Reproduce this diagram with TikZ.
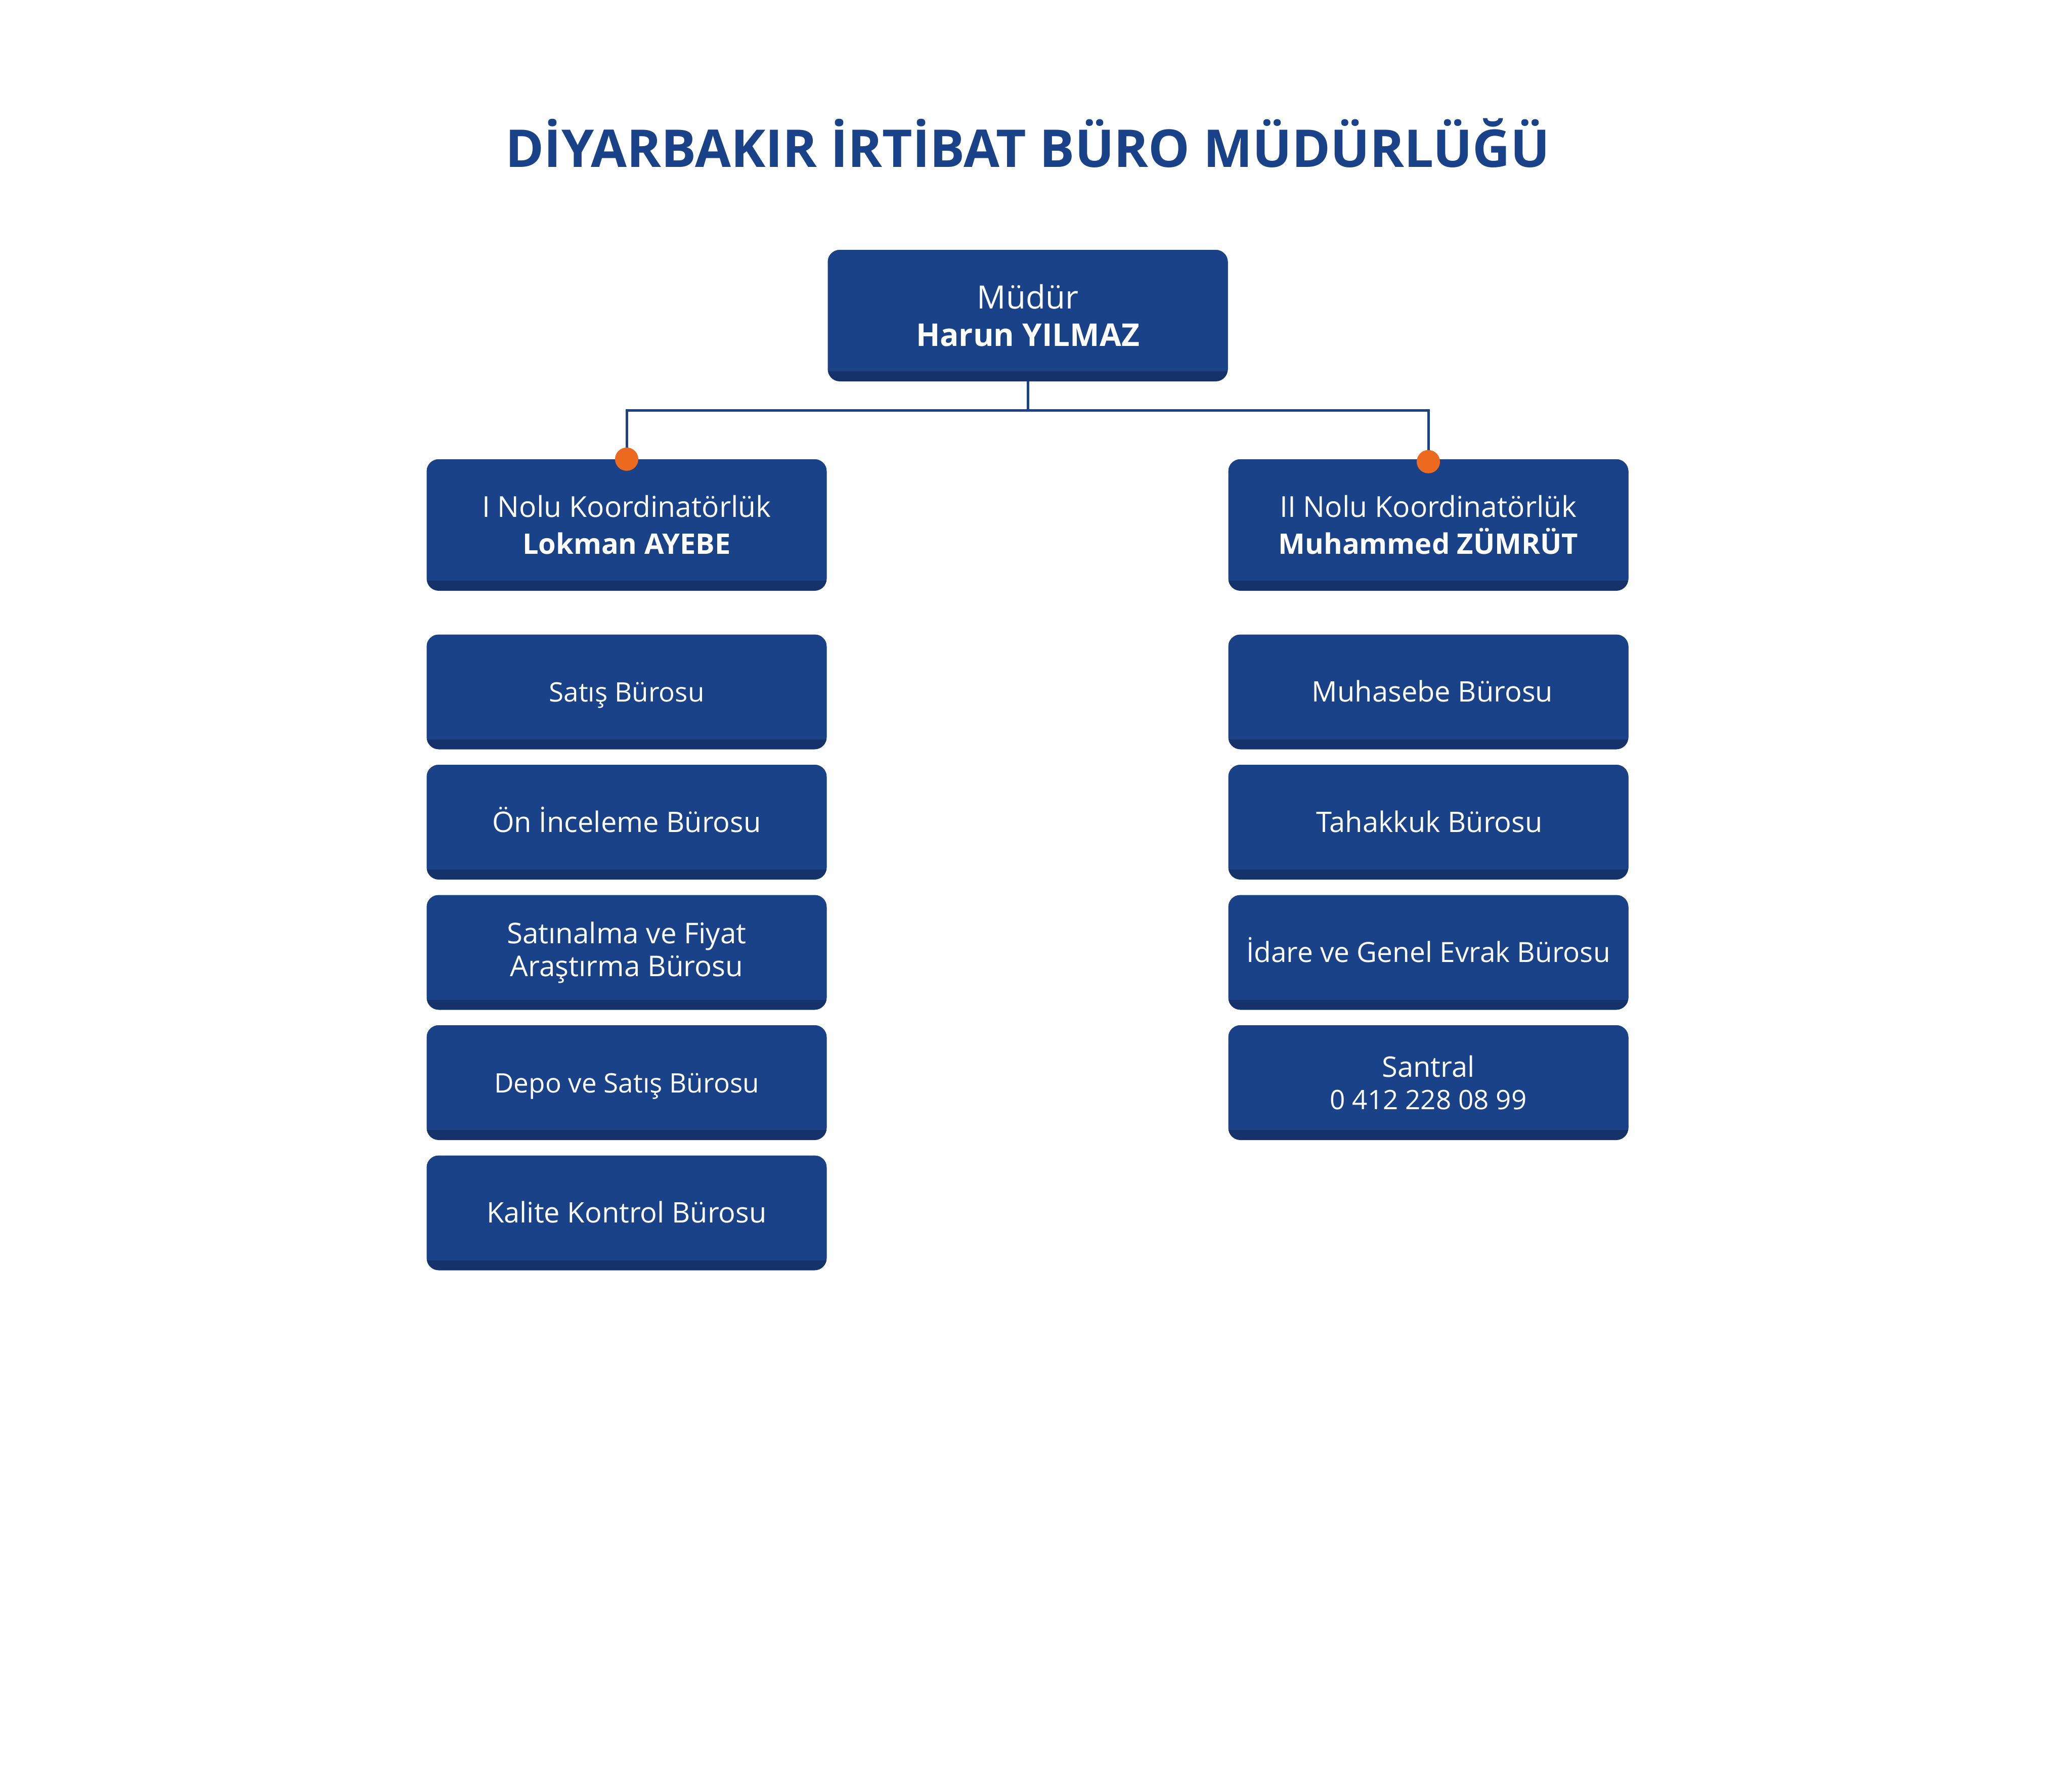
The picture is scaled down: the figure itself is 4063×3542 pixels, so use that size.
\documentclass[tikz,border=0pt]{standalone}
\usepackage{fontspec}
\setmainfont{Open Sans}
\definecolor{boxblue}{HTML}{1A4288}
\definecolor{stripblue}{HTML}{15336A}
\definecolor{dotorange}{HTML}{EC6A1F}
\tikzset{
  unit/.style={rectangle, rounded corners=24pt, minimum width=791pt, inner sep=0pt,
    fill=stripblue, text=white, align=center,
    path picture={\fill[boxblue, sharp corners] (path picture bounding box.north west) rectangle ([yshift=20pt]path picture bounding box.south east);}},
  bureau/.style={unit, minimum height=227pt, font=\fontsize{56}{64}\selectfont},
  oneline/.style={text height=39pt, text depth=0pt},
  coordbox/.style={unit, minimum height=260pt, font=\fontsize{57}{73}\selectfont},
  headbox/.style={unit, minimum height=260pt, font=\fontsize{63.5}{74}\selectfont},
  link/.style={draw=boxblue, line width=5pt},
  orangedot/.style={circle, fill=dotorange, minimum size=46pt, inner sep=0pt},
  titletext/.style={text=boxblue, font=\bfseries\fontsize{103}{120}\selectfont, anchor=base, inner sep=0pt}
}
\begin{document}
\begin{tikzpicture}[x=1pt,y=-1pt]
\fill[white] (0,0) rectangle (4063,3542);
\useasboundingbox (0,0) rectangle (4063,3542);

\node[titletext] (title) at (2032,330) {DİYARBAKIR İRTİBAT BÜRO MÜDÜRLÜĞÜ};

\node[headbox] (head) at (2032,624) {Müdür\\\textbf{\fontsize{62}{74}\selectfont Harun YILMAZ}};

\node[coordbox] (c1) at (1239,1038) {I Nolu Koordinatörlük\\\textbf{\fontsize{56}{73}\selectfont Lokman AYEBE}};
\node[coordbox] (c2) at (2824,1038) {II Nolu Koordinatörlük\\\textbf{\fontsize{56}{73}\selectfont Muhammed ZÜMRÜT}};

\node[bureau, oneline, font=\fontsize{53}{64}\selectfont] (l1) at (1239,1368) {Satış Bürosu};
\node[bureau, oneline] (l2) at (1239,1625.5) {Ön İnceleme Bürosu};
\node[bureau, font=\fontsize{56.5}{65}\selectfont] (l3) at (1239,1883) {Satınalma ve Fiyat\\Araştırma Bürosu};
\node[bureau, oneline, font=\fontsize{53}{64}\selectfont] (l4) at (1239,2140.5) {Depo ve Satış Bürosu};
\node[bureau, oneline] (l5) at (1239,2398) {Kalite Kontrol Bürosu};

\node[bureau, oneline] (r1) at (2824,1368) {\hspace*{16pt}Muhasebe Bürosu};
\node[bureau, oneline] (r2) at (2824,1625.5) {\hspace*{4pt}Tahakkuk Bürosu};
\node[bureau, oneline, font=\fontsize{55}{64}\selectfont] (r3) at (2824,1883) {İdare ve Genel Evrak Bürosu};
\node[bureau] (r4) at (2824,2140.5) {Santral\\\fontsize{53}{63.5}\selectfont 0 412 228 08 99};

\coordinate (junction) at (2032,811);
\draw[link] (head.south) -- (junction);
\draw[link] (c1.north) |- (junction) -| (c2.north);

\node[orangedot] (d1) at (c1.north) {};
\node[orangedot] (d2) at ([yshift=-5pt]c2.north) {};
\end{tikzpicture}
\end{document}
